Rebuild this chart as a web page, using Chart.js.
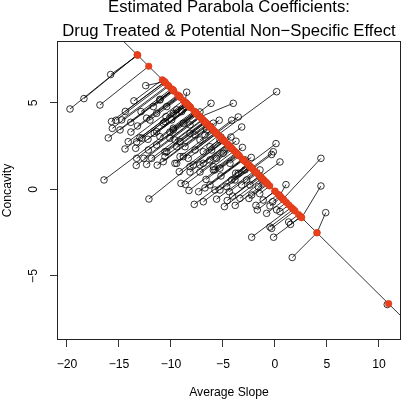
<!DOCTYPE html>
<html>
<head>
<meta charset="utf-8">
<script src="https://cdn.jsdelivr.net/npm/chart.js@4.4.1/dist/chart.umd.min.js"></script>
<style>
  html, body { margin: 0; padding: 0; background: #ffffff; }
  #wrap { width: 402px; height: 400px; }
</style>
</head>
<body>
<div id="wrap"><canvas id="c" width="402" height="400"></canvas></div>
<script>
// ---- Data ----
const titleLines = ['Estimated Parabola Coefficients:', 'Drug Treated & Potential Non\u2212Specific Effect'];
const xAxisLabel = 'Average Slope';
const yAxisLabel = 'Concavity';
const xTickValues = [-20, -15, -10, -5, 0, 5, 10];
const yTickValues = [-5, 0, 5];

// observed (open circles)
const obsSlope = [
 -19.71,-18.37,-15.8,-16.83,-12.43,-8.49,-6.15,-4.01,0.16,
 -13.56,-14.39,-15.72,-15.29,-15.64,-16.03,-13.87,-13.85,-13.22,-12.88,
 -13.3,-12.98,-14.42,-13.39,-12.79,-12.21,-11.61,-11.38,-13.3,-13.34,
 -12.34,-11.32,-12.6,-11.86,-10.58,-16.44,-12.12,-9.2,-9.04,-8.61,
 -8.27,-7.76,-7.34,-6.89,-6.63,-5.61,-5.19,-4.86,-4.59,-4.39,
 -4.07,-3.82,-3.78,-3.37,-2.5,-1.83,-1.7,-1.47,-2.24,-0.13,
 -0.48,-0.32,-0.48,-0.22,0.16,0.48,1.06,0.48,1.32,1.49,
 1.66,4.42,4.42,4.88,10.8,
 -5.93,-5.36,-4.16,-3.53,-3.2,-4.23,-3.75,-3.13,-2.28,0.1,
 -0.16,-0.32,-7.69,-6.89,-6.09,-5.61,-8.34,-7.86,-4.49,-3.53,
 -2.88,-4.16,
 -11.06,-11.7,-10.48,-9.93,-12.34,-11.38,-10.58,-8.97,-8.17,-9.62,
 -8.65,-10.58,-9.13,-10.1,-7.69,-7.21,-6.73,-6.25,-5.29,-7.21,
 -5.77,-2.4,-1.25,-2.88,-1.44,-8.17,-6.73,-5.77,
 -11.06,-10.41,-9.78,-11.38,-10.74,-9.78,-12.02,-11.06,-10.1,-9.45,
 -10.41,-10.74,-9.62,-12.18,-14.11,-14.9,-14.74,
 -9.45,-8.82,-9.78,-8.17,-9.13,-7.21,-6.57,-6.25,-5.19,-4.97,
 -8.82,-6.89,-5.93,-4.33,
 -9.45,-8.17,-7.21,-5.93,-5.29,-3.85,-3.2,-2.72,-6.25,-5.29,
 -4.64,-1.61,-1.13,-2.24,-0.8
];
const obsConc = [
 4.65,5.25,6.64,4.88,6.0,5.62,4.98,4.98,5.65,
 5.12,4.51,3.93,4.0,3.53,2.98,3.88,3.32,3.67,4.5,
 2.75,2.99,2.34,2.38,2.96,2.9,3.25,2.57,1.8,1.39,
 1.45,1.4,1.8,1.8,1.9,0.55,-0.55,1.03,0.35,0.29,
 -0.06,-0.86,-0.13,-0.71,0.58,-0.56,0.78,-0.99,-0.64,-0.13,
 -0.38,-0.92,0.94,-0.51,-0.52,-0.92,-1.18,-0.24,-2.76,-2.76,
 -2.17,-2.25,-0.95,-0.71,-1.18,-1.28,0.28,1.59,-1.88,-2.02,
 -3.93,1.8,0.2,-1.34,-6.65,
 3.83,4.0,4.0,4.19,3.61,3.03,2.79,2.43,1.85,2.65,
 2.18,2.02,2.28,2.18,2.28,1.8,1.8,1.42,2.57,0.94,
 1.13,0.55,
 5.17,4.79,4.21,4.02,4.12,3.34,3.92,4.5,3.73,2.86,
 2.47,2.18,1.9,3.32,3.15,4.48,3.15,1.71,2.86,1.42,
 1.13,0.26,0.55,1.71,1.13,1.01,0.09,-0.03,
 5.21,4.79,4.4,4.4,3.83,3.54,4.01,3.05,2.96,2.47,
 2.18,1.61,1.51,2.28,2.76,3.44,4.02,
 4.6,3.83,3.44,3.25,2.76,2.86,3.44,2.47,3.03,2.09,
 1.9,1.51,1.32,1.51,
 1.51,1.32,1.01,1.13,1.23,0.55,0.26,0.55,0.26,-0.03,
 0.16,0.16,-0.61,-0.32,-1.38
];
// fitted (filled red points on the reference line)
const fitSlope = [
 -13.24,-13.24,-13.2,-12.14,-10.64,-8.65,-7.5,-7.21,-5.48,
 -10.83,-10.61,-10.62,-10.51,-10.21,-9.85,-9.78,-9.23,-9.3,-9.95,
 -8.46,-8.55,-8.55,-8.14,-8.44,-8.12,-8.2,-7.45,-7.55,-7.17,
 -6.79,-6.31,-7.24,-6.93,-6.47,-7.7,-5.0,-5.04,-4.33,-4.08,
 -3.6,-2.61,-3.13,-2.38,-3.5,-1.97,-3.08,-1.24,-1.46,-1.87,
 -1.48,-0.86,-2.62,-1.06,-0.68,0.0,0.3,-0.5,1.58,2.49,
 1.77,1.92,0.6,0.49,1.1,1.34,0.45,-1.41,2.27,2.48,
 4.04,0.77,2.57,4.04,10.93,
 -6.32,-6.23,-5.71,-5.63,-4.93,-4.81,-4.38,-3.77,-2.85,-2.58,
 -2.25,-2.16,-5.59,-5.15,-4.9,-4.23,-5.41,-4.84,-4.49,-2.52,
 -2.42,-2.41,
 -9.81,-9.72,-8.64,-8.22,-9.35,-8.19,-8.4,-8.27,-7.19,-6.98,
 -6.18,-6.74,-5.85,-7.63,-6.42,-7.48,-6.01,-4.42,-5.11,-4.56,
 -3.67,-1.38,-1.16,-2.98,-1.8,-4.58,-3.08,-2.56,
 -9.85,-9.16,-8.52,-9.21,-8.38,-7.69,-9.11,-7.78,-7.28,-6.53,
 -6.66,-6.26,-5.68,-7.52,-8.81,-9.81,-10.29,
 -8.56,-7.56,-7.6,-6.73,-6.67,-5.93,-6.22,-5.15,-5.23,-4.24,
 -5.71,-4.51,-3.91,-3.41,
 -5.61,-4.88,-4.16,-3.73,-3.55,-2.28,-1.72,-1.79,-3.03,-2.34,
 -2.25,-0.94,0.0,-0.76,0.88
];
const fitConc = [
 7.78,7.78,7.75,7.12,6.23,5.05,4.36,4.19,3.16,
 6.34,6.21,6.22,6.15,5.97,5.76,5.72,5.39,5.43,5.82,
 4.93,4.99,4.99,4.74,4.92,4.73,4.78,4.33,4.39,4.17,
 3.94,3.65,4.21,4.02,3.75,4.48,2.88,2.9,2.48,2.33,
 2.04,1.45,1.76,1.32,1.98,1.07,1.73,0.64,0.77,1.01,
 0.78,0.41,1.46,0.53,0.3,-0.1,-0.28,0.2,-1.04,-1.58,
 -1.15,-1.24,-0.46,-0.39,-0.75,-0.9,-0.37,0.74,-1.45,-1.58,
 -2.5,-0.56,-1.63,-2.5,-6.6,
 3.66,3.61,3.3,3.25,2.83,2.76,2.51,2.14,1.6,1.44,
 1.24,1.19,3.23,2.96,2.82,2.42,3.12,2.78,2.57,1.4,
 1.34,1.33,
 5.74,5.68,5.04,4.79,5.46,4.77,4.9,4.82,4.18,4.05,
 3.58,3.91,3.38,4.44,3.72,4.35,3.48,2.53,2.94,2.61,
 2.08,0.72,0.59,1.67,0.97,2.63,1.73,1.42,
 5.76,5.35,4.97,5.38,4.89,4.48,5.32,4.53,4.23,3.79,
 3.86,3.62,3.28,4.37,5.14,5.74,6.02,
 4.99,4.4,4.42,3.9,3.87,3.43,3.6,2.96,3.01,2.42,
 3.3,2.58,2.23,1.93,
 3.24,2.8,2.38,2.12,2.01,1.26,0.92,0.97,1.7,1.29,
 1.24,0.46,-0.1,0.35,-0.62
];
// reference line drawn across the panel (end points)
const refLineSlope = [-22, 13];
const refLineConc = [12.99, -7.84];

// axis ranges
const xRange = [-20.96, 12.12];
const yRange = [-8.7, 8.58];

// ---- Build datasets ----
const segPoints = [];
obsSlope.forEach((x, i) => {
  segPoints.push({x: x, y: obsConc[i]});
  segPoints.push({x: fitSlope[i], y: fitConc[i]});
  segPoints.push({x: NaN, y: NaN});
});
const obsPoints = obsSlope.map((x, i) => ({x: x, y: obsConc[i]}));
const fitPoints = fitSlope.map((x, i) => ({x: x, y: fitConc[i]}));
const refPoints = refLineSlope.map((x, i) => ({x: x, y: refLineConc[i]}));

const FONT = 'Liberation Sans, Arial, Helvetica, sans-serif';
const fmt = v => String(v).replace('-', '\u2212');

const boxPlugin = {
  id: 'box',
  afterDatasetsDraw(chart) {
    const a = chart.chartArea, ctx = chart.ctx;
    ctx.save();
    ctx.strokeStyle = '#222';
    ctx.lineWidth = 1;
    ctx.strokeRect(Math.round(a.left) + 0.5, Math.round(a.top) + 0.5,
                   Math.round(a.right - a.left) - 1, Math.round(a.bottom - a.top) - 1);
    ctx.restore();
  }
};

new Chart(document.getElementById('c'), {
  type: 'scatter',
  data: {
    datasets: [
      { label: 'fitted', data: fitPoints, order: 0,
        pointRadius: 3.3, pointBackgroundColor: '#e8401c', pointBorderColor: '#d83a18', pointBorderWidth: 0.5 },
      { label: 'observed', data: obsPoints, order: 1,
        pointRadius: 3.3, pointBackgroundColor: 'rgba(0,0,0,0)', pointBorderColor: '#000', pointBorderWidth: 0.8 },
      { label: 'segments', data: segPoints, order: 2, showLine: true, spanGaps: false,
        pointRadius: 0, borderColor: '#000', borderWidth: 0.8, tension: 0 },
      { label: 'reference', data: refPoints, order: 3, showLine: true,
        pointRadius: 0, borderColor: '#000', borderWidth: 0.8, tension: 0 }
    ]
  },
  options: {
    responsive: false,
    animation: false,
    events: [],
    devicePixelRatio: 1,
    layout: { autoPadding: false, padding: { left: 0, right: 1, top: 0, bottom: 0 } },
    plugins: {
      legend: { display: false },
      tooltip: { enabled: false },
      title: {
        display: true, text: titleLines, fullSize: false, color: '#000',
        font: { family: FONT, size: 16.7, weight: 'normal', lineHeight: 24 / 16.7 },
        padding: { top: -4.6, bottom: -2.4 }
      }
    },
    scales: {
      x: {
        type: 'linear', position: 'bottom', min: xRange[0], max: xRange[1],
        afterBuildTicks: s => { s.ticks = xTickValues.map(v => ({value: v})); },
        afterFit: s => { s.height = 60; s.paddingLeft = 0; s.paddingRight = 0; },
        grid: { drawOnChartArea: false, drawTicks: true, tickLength: 7, color: '#333', lineWidth: 1 },
        border: { display: false },
        ticks: { color: '#000', font: { family: FONT, size: 12.2 }, padding: 10.6,
                 maxRotation: 0, minRotation: 0, autoSkip: false, callback: v => fmt(v) },
        title: { display: true, text: xAxisLabel, color: '#000',
                 font: { family: FONT, size: 12.2 }, padding: { top: 0, bottom: 0 } }
      },
      y: {
        type: 'linear', position: 'left', min: yRange[0], max: yRange[1],
        afterBuildTicks: s => { s.ticks = yTickValues.map(v => ({value: v})); },
        afterFit: s => { s.width = 57; s.paddingTop = 0; s.paddingBottom = 0; },
        grid: { drawOnChartArea: false, drawTicks: true, tickLength: 7, color: '#333', lineWidth: 1 },
        border: { display: false },
        ticks: { color: '#000', font: { family: FONT, size: 12.2 }, padding: 9,
                 minRotation: 90, maxRotation: 90, crossAlign: 'center', autoSkip: false,
                 callback: v => fmt(v) },
        title: { display: true, text: yAxisLabel, color: '#000',
                 font: { family: FONT, size: 12.2 }, padding: { top: 0, bottom: 0 } }
      }
    }
  },
  plugins: [boxPlugin]
});
</script>
</body>
</html>
